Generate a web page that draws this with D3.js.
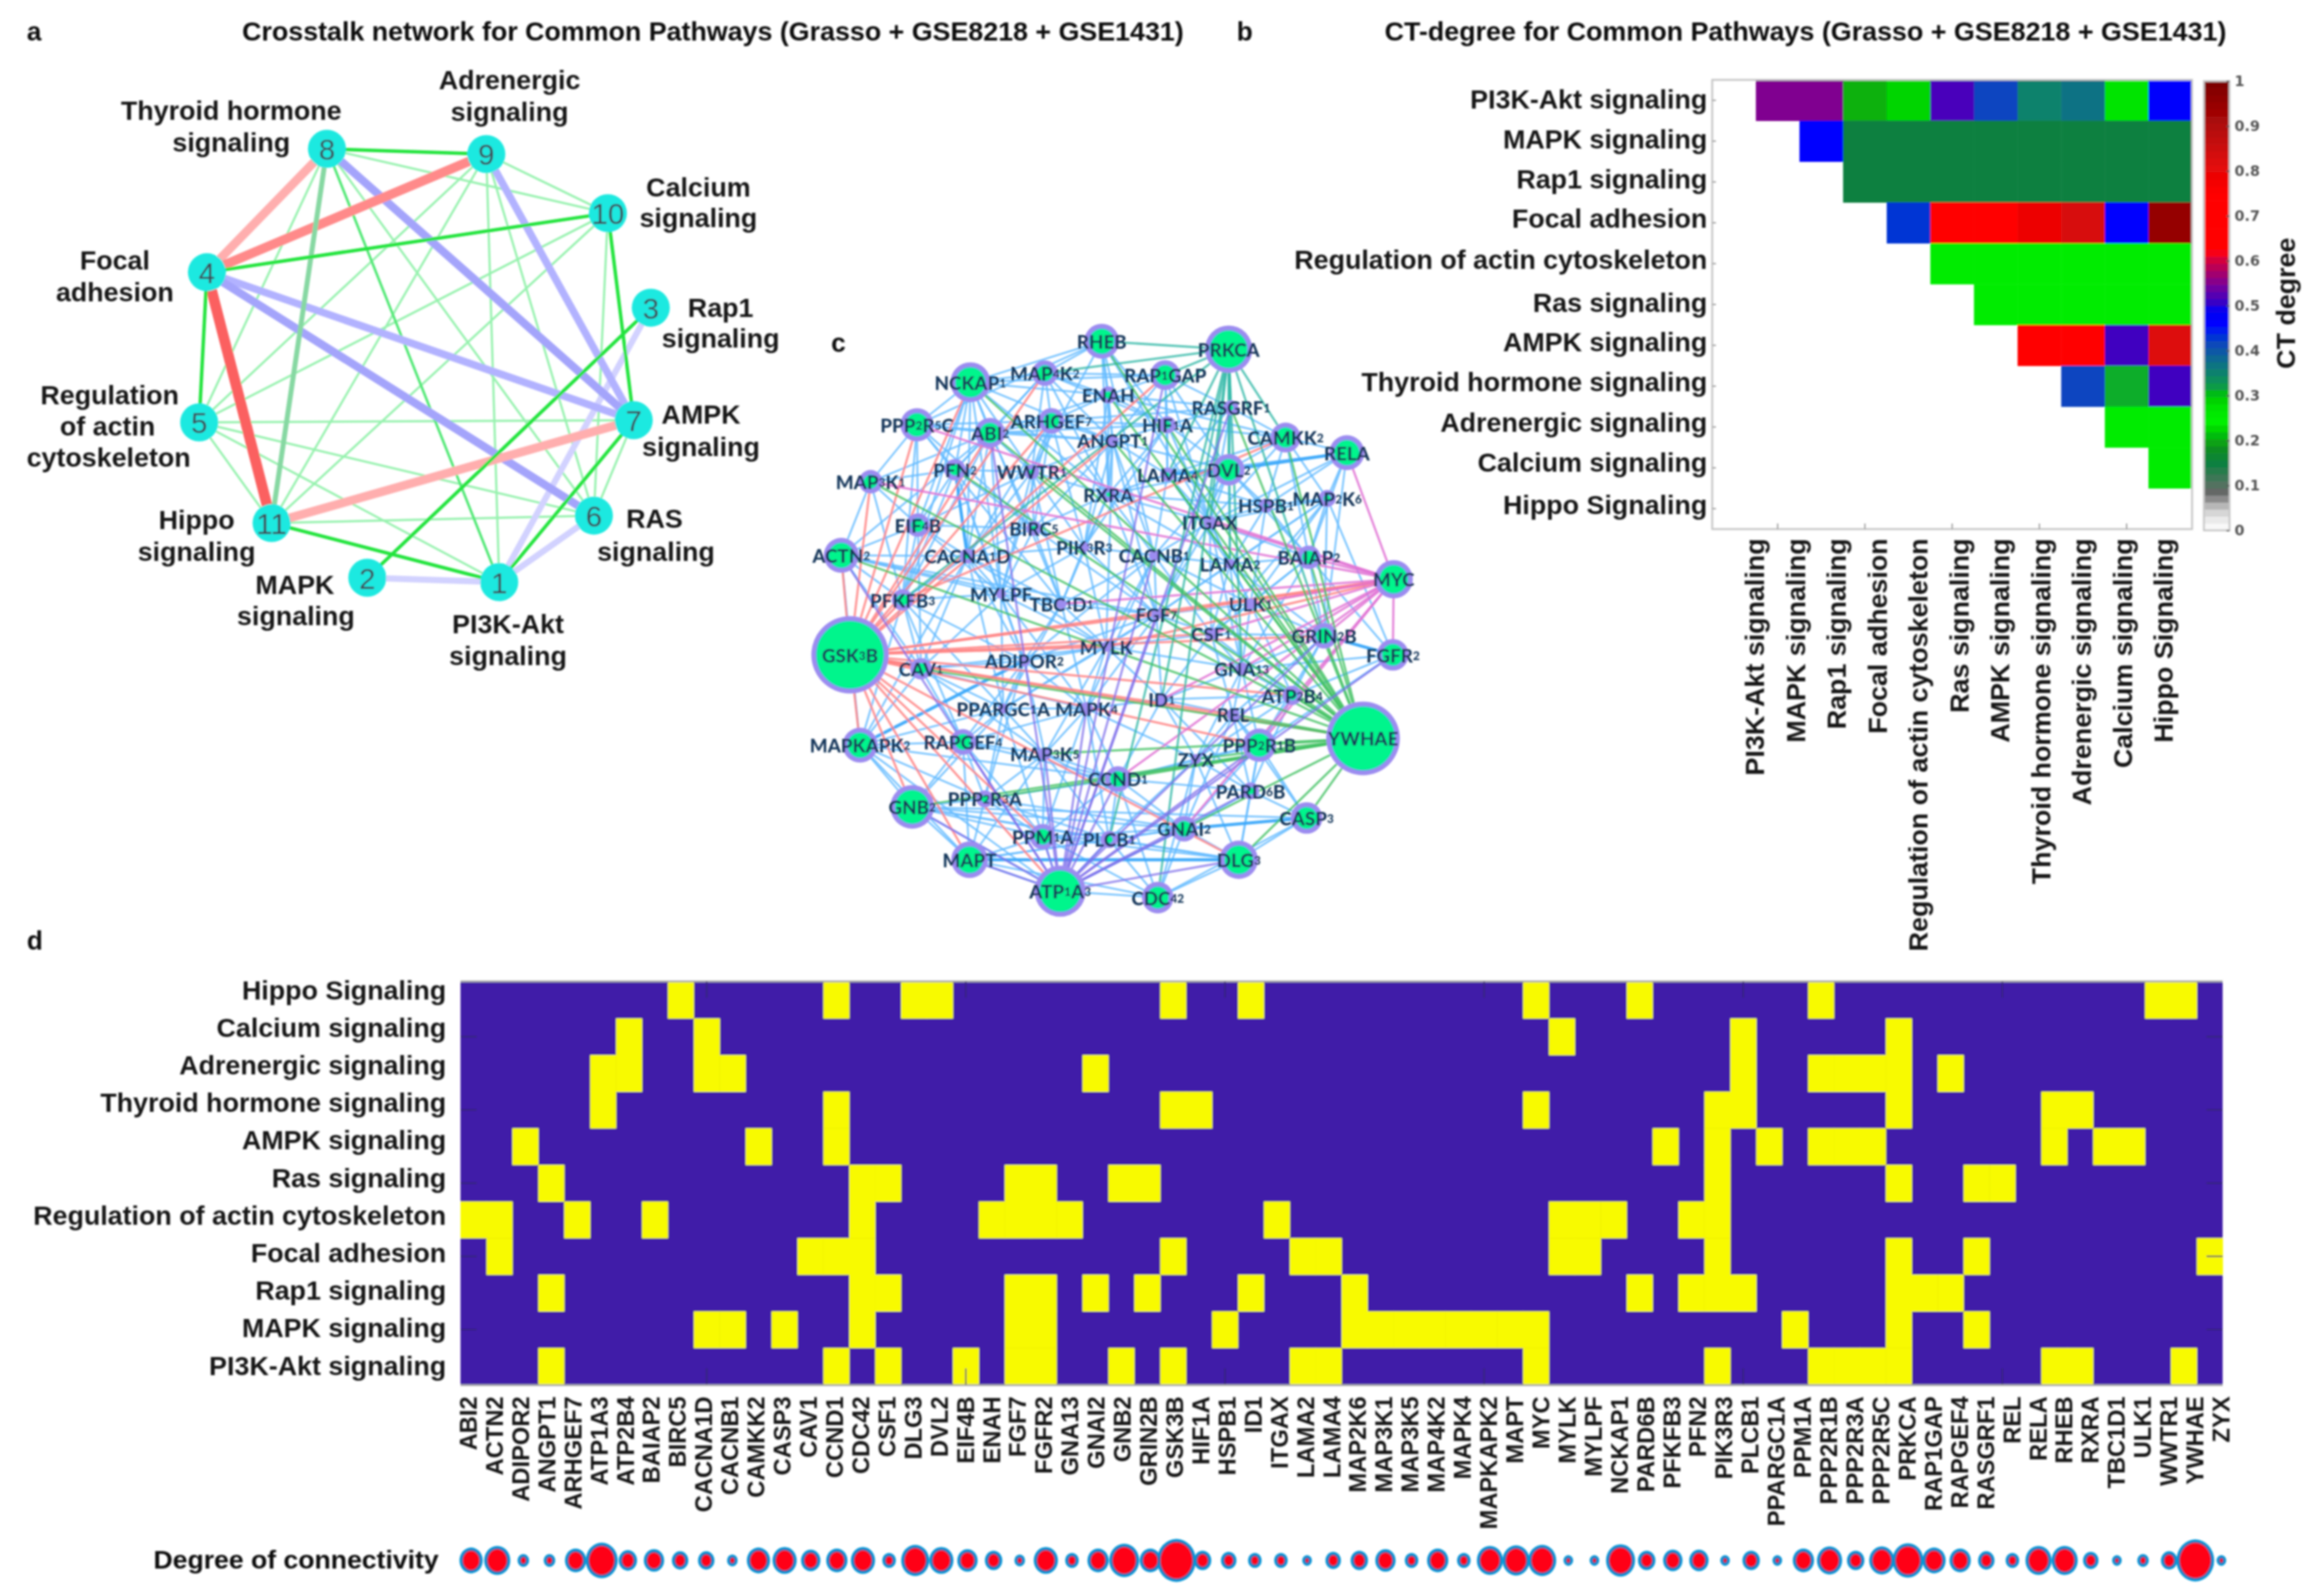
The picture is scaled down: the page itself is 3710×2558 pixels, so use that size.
<!DOCTYPE html>
<html><head><meta charset="utf-8">
<script src="https://cdn.jsdelivr.net/npm/d3@7/dist/d3.min.js"></script>
<style>html,body{margin:0;background:#fff}svg{display:block}text{font-family:"Liberation Sans",Arial,sans-serif}</style>
</head><body><svg id="c" width="3710" height="2558"></svg>
<script>
// ---------- data ----------
const genes = ["ABI2","ACTN2","ADIPOR2","ANGPT1","ARHGEF7","ATP1A3","ATP2B4","BAIAP2","BIRC5","CACNA1D","CACNB1","CAMKK2","CASP3","CAV1","CCND1","CDC42","CSF1","DLG3","DVL2","EIF4B","ENAH","FGF7","FGFR2","GNA13","GNAI2","GNB2","GRIN2B","GSK3B","HIF1A","HSPB1","ID1","ITGAX","LAMA2","LAMA4","MAP2K6","MAP3K1","MAP3K5","MAP4K2","MAPK4","MAPKAPK2","MAPT","MYC","MYLK","MYLPF","NCKAP1","PARD6B","PFKFB3","PFN2","PIK3R3","PLCB1","PPARGC1A","PPM1A","PPP2R1B","PPP2R3A","PPP2R5C","PRKCA","RAP1GAP","RAPGEF4","RASGRF1","REL","RELA","RHEB","RXRA","TBC1D1","ULK1","WWTR1","YWHAE","ZYX"];
const geneDegree = [24,27,12,12,22,33,19,21,17,17,11,24,25,20,22,25,14,29,25,21,18,11,25,14,22,31,22,40,18,16,14,14,10,16,18,21,14,22,14,27,28,29,10,10,30,18,20,20,10,18,10,22,26,18,26,32,24,22,17,14,27,27,16,10,12,17,39,10];
const pathwaysB = ["PI3K-Akt signaling","MAPK signaling","Rap1 signaling","Focal adhesion","Regulation of actin cytoskeleton","Ras signaling","AMPK signaling","Thyroid hormone signaling","Adrenergic signaling","Calcium signaling","Hippo Signaling"];
const ctDegreeRows = [
 [null,.55,.55,.205,.225,.515,.42,.35,.37,.27,.465],
 [null,null,.46,.15,.15,.15,.15,.15,.15,.15,.15],
 [null,null,null,.15,.15,.15,.15,.15,.15,.15,.15],
 [null,null,null,null,.43,.7,.7,.79,.83,.46,.95],
 [null,null,null,null,null,.25,.25,.25,.25,.25,.25],
 [null,null,null,null,null,null,.25,.25,.25,.25,.25],
 [null,null,null,null,null,null,null,.7,.7,.51,.82],
 [null,null,null,null,null,null,null,null,.42,.31,.51],
 [null,null,null,null,null,null,null,null,null,.25,.25],
 [null,null,null,null,null,null,null,null,null,null,.25],
 [null,null,null,null,null,null,null,null,null,null,null]];
const ctStops = [0,.03,.05,.07,.085,.105,.15,.18,.2,.24,.27,.3,.315,.34,.38,.42,.44,.46,.49,.51,.54,.57,.6,.62,.64,.75,.8,.85,.9,1];
const ctColors = ["#ffffff","#e4e4e4","#c4c4c4","#8c8c8c","#666666","#4f7460","#0b8040","#0a8c20","#08a810","#00f000","#00e400","#00c800","#0aa040","#0a8a60","#0a6a90","#0a44c0","#0028e8","#0000ff","#0000f0","#4000c0","#7000a0","#a00070","#d00040","#ff0010","#ff0000","#ff0000","#e80808","#cc0a0a","#b00808","#7a0000"];
const ctTicks = [0,.1,.2,.3,.4,.5,.6,.7,.8,.9,1];

const pathwaysD = ["Hippo Signaling","Calcium signaling","Adrenergic signaling","Thyroid hormone signaling","AMPK signaling","Ras signaling","Regulation of actin cytoskeleton","Focal adhesion","Rap1 signaling","MAPK signaling","PI3K-Akt signaling"];
const hippoGenes = ["BIRC5","CCND1","DLG3","DVL2","GSK3B","ID1","MYC","PARD6B","PPP2R1B","WWTR1","YWHAE"];
const calciumGenes = ["ATP2B4","CACNA1D","MYLK","PLCB1","PRKCA"];
const adrenergicGenes = ["ATP1A3","ATP2B4","CACNA1D","CACNB1","GNAI2","PLCB1","PPP2R1B","PPP2R3A","PPP2R5C","PRKCA","RAPGEF4"];
const thyroidGenes = ["ATP1A3","CCND1","GSK3B","HIF1A","MYC","PIK3R3","PLCB1","PRKCA","RHEB","RXRA"];
const ampkGenes = ["ADIPOR2","CAMKK2","CCND1","PFKFB3","PIK3R3","PPARGC1A","PPP2R1B","PPP2R3A","PPP2R5C","RHEB","TBC1D1","ULK1"];
const rasGenes = ["ANGPT1","CDC42","CSF1","FGF7","FGFR2","GNB2","GRIN2B","PIK3R3","PRKCA","RASGRF1","REL"];
const actinGenes = ["ABI2","ACTN2","ARHGEF7","BAIAP2","CDC42","ENAH","FGF7","FGFR2","GNA13","ITGAX","MYLK","MYLPF","NCKAP1","PFN2","PIK3R3"];
const focalGenes = ["ACTN2","CAV1","CCND1","CDC42","GSK3B","LAMA2","LAMA4","MYLK","MYLPF","PIK3R3","PRKCA","RASGRF1","ZYX"];
const rap1Genes = ["ANGPT1","CDC42","CSF1","FGF7","FGFR2","GNAI2","GRIN2B","ID1","MAP2K6","PARD6B","PFN2","PIK3R3","PLCB1","PRKCA","RAP1GAP","RAPGEF4"];
const mapkGenes = ["CACNA1D","CACNB1","CASP3","CDC42","FGF7","FGFR2","HSPB1","MAP2K6","MAP3K1","MAP3K5","MAP4K2","MAPK4","MAPKAPK2","MAPT","MYC","PPM1A","PRKCA","RASGRF1"];
const pi3kGenes = ["ANGPT1","CCND1","CSF1","EIF4B","FGF7","FGFR2","GNB2","GSK3B","LAMA2","LAMA4","MYC","PIK3R3","PPP2R1B","PPP2R3A","PPP2R5C","PRKCA","RHEB","RXRA","YWHAE"];
const membership = [hippoGenes,calciumGenes,adrenergicGenes,thyroidGenes,ampkGenes,rasGenes,actinGenes,focalGenes,rap1Genes,mapkGenes,pi3kGenes];

// panel a: crosstalk network (layout units)
const crosstalkIds = [1,2,3,4,5,6,7,8,9,10,11];
const crosstalkLayoutX = [965,710,1258,400,385,1148,1225,632,940,1175,525];
const crosstalkLayoutY = [1330,1320,703,622,965,1178,960,340,352,487,1195];
const redStrong = [[4,11]], redMedium = [[4,9]], redLight = [[4,8],[7,11]];
const blueStrong = [[8,7],[4,6]], blueMedium = [[9,7],[4,7]], blueLight = [[3,1],[6,1],[2,1]];
const greenStrong = [[8,9],[4,10],[10,7],[3,2],[11,1],[7,1],[4,5]];
const greenGrey = [[8,11]];
const greenMid = [[8,1]];
const greenThin = [[8,10],[9,10],[8,5],[8,6],[9,5],[9,11],[9,1],[9,6],[10,5],[10,11],[10,6],[5,7],[5,6],[5,1],[5,11],[11,6],[7,6]];
const crosstalkLabels = [
 ["Thyroid hormone",447,252],["signaling",447,325],["Adrenergic",985,183],["signaling",985,255],
 ["Calcium",1350,427],["signaling",1350,497],["Focal",222,595],["adhesion",222,667],
 ["Rap1",1393,703],["signaling",1393,773],["Regulation",212,902],["of actin",208,973],["cytoskeleton",210,1045],
 ["AMPK",1355,947],["signaling",1355,1020],["Hippo",380,1188],["signaling",380,1260],
 ["RAS",1265,1185],["signaling",1268,1260],["MAPK",570,1335],["signaling",572,1407],
 ["PI3K-Akt",982,1425],["signaling",982,1498]];

// panel c: gene network layout (layout units)
const geneLayout = {RHEB:[735,105],PRKCA:[1025,125],NCKAP1:[435,208],MAP4K2:[605,185],RAP1GAP:[880,190],ENAH:[750,240],RASGRF1:[1030,272],PPP2R5C:[313,315],ABI2:[480,335],ARHGEF7:[620,305],HIF1A:[885,315],ANGPT1:[760,355],CAMKK2:[1155,347],RELA:[1295,385],DVL2:[1025,428],LAMA4:[885,440],PFN2:[400,428],WWTR1:[575,433],MAP3K1:[207,458],RXRA:[750,490],HSPB1:[1110,518],MAP2K6:[1250,500],EIF4B:[315,567],BIRC5:[580,575],ITGAX:[982,560],ACTN2:[140,643],CACNA1D:[428,645],PIK3R3:[695,622],CACNB1:[855,643],LAMA2:[1028,665],BAIAP2:[1208,648],MYC:[1402,703],MYLPF:[505,740],PFKFB3:[280,755],TBC1D1:[643,765],ULK1:[1075,765],FGF7:[860,792],CSF1:[985,840],GRIN2B:[1243,845],GSK3B:[160,893],MYLK:[745,873],FGFR2:[1400,893],CAV1:[322,928],ADIPOR2:[558,908],GNA13:[1055,928],ID1:[872,1005],ATP2B4:[1170,995],MAPK4:[700,1028],PPARGC1A:[510,1028],REL:[1035,1043],YWHAE:[1332,1103],MAPKAPK2:[183,1120],RAPGEF4:[418,1112],PPP2R1B:[1095,1120],MAP3K5:[605,1142],ZYX:[950,1155],CCND1:[772,1205],PARD6B:[1075,1235],PPP2R3A:[468,1255],GNB2:[302,1275],CASP3:[1203,1303],GNAI2:[923,1330],PPM1A:[600,1350],PLCB1:[752,1357],MAPT:[433,1408],DLG3:[1048,1408],ATP1A3:[640,1487],CDC42:[863,1503]};
const blueLinks = {RHEB:"NCKAP1 PPP2R5C ENAH ANGPT1 RXRA WWTR1 HIF1A ITGAX CACNB1 MAP4K2",
NCKAP1:"MAP4K2 PPP2R5C ABI2 PFN2 EIF4B CACNA1D WWTR1 RAP1GAP ENAH ANGPT1 TBC1D1 MYLPF PFKFB3 RXRA",
MAP4K2:"ENAH ARHGEF7 ABI2 WWTR1 PFN2 HIF1A RAP1GAP ANGPT1 RXRA",
RAP1GAP:"ENAH HIF1A RASGRF1 LAMA4 DVL2 ANGPT1 ITGAX",
ENAH:"HIF1A ANGPT1 RXRA ABI2 ARHGEF7 CAMKK2 RASGRF1 PIK3R3",
RASGRF1:"CAMKK2 HIF1A LAMA4 DVL2 ITGAX ARHGEF7",
PPP2R5C:"ABI2 ARHGEF7 PFN2 EIF4B ANGPT1 MAP3K1 BIRC5 TBC1D1 PFKFB3",
ABI2:"ARHGEF7 PFN2 ANGPT1 WWTR1 HIF1A MAP3K1 MYLPF BIRC5 PFKFB3 CACNA1D ACTN2",
ARHGEF7:"ANGPT1 WWTR1 BIRC5 PIK3R3 HIF1A RXRA CACNA1D MYLPF",
HIF1A:"ANGPT1 LAMA4 RXRA DVL2 CAMKK2 ITGAX PIK3R3",
ANGPT1:"WWTR1 RXRA LAMA4 DVL2 BIRC5 PIK3R3 CACNB1 FGF7 MYLK",
CAMKK2:"RELA DVL2 LAMA4 HSPB1 ITGAX MAP2K6 BAIAP2",
RELA:"MAP2K6 HSPB1 LAMA4 GRIN2B ITGAX BAIAP2",
DVL2:"LAMA4 HSPB1 ITGAX RXRA LAMA2 CACNB1 BAIAP2 FGF7",
LAMA4:"RXRA ITGAX HSPB1 CACNB1 LAMA2",
PFN2:"WWTR1 EIF4B BIRC5 CACNA1D PFKFB3 MYLPF MAP3K1 ADIPOR2",
WWTR1:"RXRA BIRC5 PIK3R3 EIF4B CACNA1D TBC1D1 MYLPF",
MAP3K1:"EIF4B PFKFB3 ACTN2",
RXRA:"HSPB1 ITGAX BIRC5 PIK3R3 CACNB1 TBC1D1 LAMA2 FGF7",
HSPB1:"MAP2K6 ITGAX BAIAP2 LAMA2 ULK1",
MAP2K6:"ITGAX BAIAP2 LAMA2 ULK1 FGF7 CSF1 GRIN2B FGFR2",
EIF4B:"ACTN2 BIRC5 CACNA1D PFKFB3 MYLPF CAV1",
BIRC5:"PIK3R3 CACNA1D MYLPF TBC1D1 FGF7",
ITGAX:"CACNB1 LAMA2 BAIAP2 ULK1 FGF7 CSF1 GNA13",
ACTN2:"CACNA1D PFKFB3 MYLPF TBC1D1 CAV1 FGF7 MAPKAPK2",
CACNA1D:"PIK3R3 PFKFB3 MYLPF TBC1D1 MYLK ADIPOR2 CAV1 PPARGC1A MAPKAPK2",
PIK3R3:"CACNB1 TBC1D1 FGF7 MYLK MYLPF",
CACNB1:"LAMA2 FGF7 MYLK CSF1 ULK1 TBC1D1 ADIPOR2 MAPK4",
LAMA2:"BAIAP2 ULK1 CSF1 FGF7 GRIN2B GNA13",
BAIAP2:"ULK1 GRIN2B CSF1 FGFR2 GNA13",
MYLPF:"PFKFB3 TBC1D1 ADIPOR2 CAV1 PPARGC1A MYLK MAPK4",
PFKFB3:"CAV1 ADIPOR2 PPARGC1A MAPKAPK2 RAPGEF4",
TBC1D1:"FGF7 MYLK ADIPOR2 MAPK4 PPARGC1A",
ULK1:"FGF7 CSF1 GRIN2B GNA13 ATP2B4",
FGF7:"MYLK CSF1 GNA13 ID1 ADIPOR2 MAPK4 PPARGC1A",
CSF1:"GRIN2B GNA13 ID1 ATP2B4 MYLK REL",
GRIN2B:"FGFR2 GNA13 ATP2B4 REL PPP2R1B",
MYLK:"ADIPOR2 ID1 MAPK4 CAV1 PPARGC1A MAP3K5 GNA13",
FGFR2:"ATP2B4 GNA13 PPP2R1B",
CAV1:"ADIPOR2 PPARGC1A MAPKAPK2 RAPGEF4 MAP3K5 MAPK4",
ADIPOR2:"PPARGC1A MAPK4 RAPGEF4 MAP3K5 PPP2R3A",
GNA13:"ID1 ATP2B4 REL ZYX PPP2R1B",
ID1:"MAPK4 REL ATP2B4 ZYX CCND1 PARD6B",
ATP2B4:"REL PPP2R1B ZYX PARD6B",
MAPK4:"PPARGC1A MAP3K5 RAPGEF4 CCND1 ZYX PPM1A PLCB1",
PPARGC1A:"MAPKAPK2 RAPGEF4 MAP3K5 PPP2R3A PPM1A GNB2",
REL:"PPP2R1B ZYX PARD6B CASP3 GNAI2",
MAPKAPK2:"RAPGEF4 GNB2 PPP2R3A MAPT CCND1 ATP1A3",
RAPGEF4:"MAP3K5 PPP2R3A GNB2 MAPT PPM1A CCND1",
PPP2R1B:"ZYX CCND1 PARD6B CASP3 GNAI2 DLG3",
MAP3K5:"CCND1 PPP2R3A PPM1A PLCB1 GNAI2 MAPT",
ZYX:"CCND1 PARD6B GNAI2 PLCB1 CDC42 DLG3",
CCND1:"PARD6B PPP2R3A PPM1A PLCB1 GNAI2 CDC42",
PARD6B:"CASP3 GNAI2 DLG3",
PPP2R3A:"GNB2 PPM1A MAPT GNAI2 PLCB1",
GNB2:"GNAI2 MAPT PPM1A PLCB1 ATP1A3 DLG3 CASP3",
CASP3:"DLG3 CDC42",
GNAI2:"PPM1A PLCB1 MAPT DLG3 CDC42 ATP1A3",
PPM1A:"PLCB1 MAPT ATP1A3 DLG3 CDC42",
PLCB1:"MAPT DLG3 CDC42 ATP1A3",
MAPT:"DLG3 ATP1A3 CDC42",
DLG3:"CDC42",
ATP1A3:"CDC42"};
const strongBlueLinks = {ADIPOR2:"MAPKAPK2",RELA:"DVL2",CASP3:"GNAI2",PFN2:"CACNA1D",GRIN2B:"FGFR2",MAPT:"DLG3",LAMA4:"DVL2"};
const redLinks = {GSK3B:"ACTN2 MAP3K1 PPP2R5C NCKAP1 MAP4K2 ABI2 ARHGEF7 ANGPT1 RAP1GAP PFKFB3 MYC GRIN2B FGF7 CSF1 ATP2B4 REL PPP2R1B YWHAE MAPKAPK2 GNB2 MAPT ATP1A3 DLG3 RAPGEF4 PPM1A CAV1 MYLK", CAMKK2:"PFKFB3", MYC:"MYLK FGF7 ULK1"};
const greenLinks = {YWHAE:"NCKAP1 MAP3K1 ACTN2 PFN2 ABI2 RHEB ENAH RASGRF1 CAMKK2 BAIAP2 GRIN2B PPP2R1B MAP3K5 ZYX CCND1 PPP2R3A GNB2 CASP3 DLG3 GNAI2 HIF1A WWTR1 CAV1 FGF7 ITGAX ATP2B4 REL LAMA4 ANGPT1"};
const tealLinks = {PRKCA:"RHEB MAP4K2 RAP1GAP RASGRF1 DVL2 CAMKK2 PFKFB3 CDC42 ITGAX LAMA2 GRIN2B PLCB1 ID1 LAMA4 GNA13"};
const violetLinks = {ATP1A3:"ACTN2 GNB2 MAPT DLG3 ABI2 RASGRF1 RAP1GAP PPM1A MAPK4 PLCB1 MAP3K5 PPP2R1B GRIN2B FGFR2 GNAI2 PARD6B CCND1 RAPGEF4 FGF7 CACNB1"};
const magentaLinks = {MYC:"RELA FGFR2 BAIAP2 ULK1 MAP3K1 ITGAX TBC1D1 GNA13 ID1 GRIN2B CCND1 PPP2R1B GNAI2 CSF1 PPP2R5C"};

// ---------- drawing ----------
const svg = d3.select("#c");
svg.append("defs").html('<filter id="soft" filterUnits="userSpaceOnUse" x="0" y="0" width="3710" height="2558"><feGaussianBlur stdDeviation="1.5"/></filter>');
svg.append("rect").attr("width",3710).attr("height",2558).attr("fill","#fff");
const root = svg.append("g").attr("filter","url(#soft)");
const title = (s,x,y,anchor,size,len)=>{const t=root.append("text").attr("x",x).attr("y",y).attr("text-anchor",anchor||"start").attr("dominant-baseline","central").attr("font-size",size||42).attr("font-weight","bold").attr("fill","#111").text(s); if(len) t.attr("textLength",len).attr("lengthAdjust","spacingAndGlyphs"); return t;};
title("a",43,50);title("b",1982,50);title("c",1332,549);title("d",43,1507);
title("Crosstalk network for Common Pathways (Grasso + GSE8218 + GSE1431)",388,50,"start",43,1509);
title("CT-degree for Common Pathways (Grasso + GSE8218 + GSE1431)",2219,50,"start",43,1349);

// panel a
{
 const x=d3.scaleLinear([0,1568],[0,1300]), y=d3.scaleLinear([0,1568],[0,1100]);
 const g=root.append("g");
 const pos=id=>{const i=crosstalkIds.indexOf(id);return [x(crosstalkLayoutX[i]),y(crosstalkLayoutY[i])];};
 const draw=(list,color,w)=>g.append("g").selectAll("line").data(list).join("line")
   .attr("x1",d=>pos(d[0])[0]).attr("y1",d=>pos(d[0])[1]).attr("x2",d=>pos(d[1])[0]).attr("y2",d=>pos(d[1])[1])
   .attr("stroke",color).attr("stroke-width",w);
 draw(greenThin,"#96f2ae",3.5);draw(greenMid,"#4fe873",4);
 draw(blueLight,"#d2d2ff",10);draw(blueMedium,"#b2b2ff",12);draw(blueStrong,"#a4a4fb",13);
 draw(redLight,"#ffaeae",14);draw(redMedium,"#ff8a8a",15);draw(redStrong,"#fb6060",17);
 draw(greenGrey,"#86d8a2",8);draw(greenStrong,"#22e43e",5.5);
 g.selectAll("circle").data(crosstalkIds).join("circle")
   .attr("cx",d=>pos(d)[0]).attr("cy",d=>pos(d)[1]).attr("r",30.5).attr("fill","#1de9e0");
 g.selectAll("text.n").data(crosstalkIds).join("text").attr("class","n")
   .attr("x",d=>pos(d)[0]).attr("y",d=>pos(d)[1]+1).attr("text-anchor","middle").attr("dominant-baseline","central")
   .attr("font-size",47).attr("fill","#3c4a55").text(d=>d);
 g.selectAll("text.l").data(crosstalkLabels).join("text").attr("class","l")
   .attr("x",d=>x(d[1])).attr("y",d=>y(d[2])).attr("text-anchor","middle").attr("dominant-baseline","central")
   .attr("font-size",43).attr("font-weight","bold").attr("fill","#151515").text(d=>d[0]);
}

// panel b
{
 const g=root.append("g");
 const x=d3.scaleBand(d3.range(11),[2744,3513]), y=d3.scaleBand(d3.range(11),[128,848]);
 const ct=d3.scaleLinear(ctStops,ctColors);
 const cells=ctDegreeRows.flatMap((r,i)=>r.map((v,j)=>({i,j,v}))).filter(d=>d.v!==null);
 g.selectAll("rect.c").data(cells).join("rect").attr("class","c").attr("x",d=>x(d.j)).attr("y",d=>y(d.i))
  .attr("width",x.bandwidth()+.5).attr("height",y.bandwidth()+.5).attr("fill",d=>ct(d.v));
 g.append("rect").attr("x",2744).attr("y",128).attr("width",769).attr("height",720).attr("fill","none").attr("stroke","#c6c6c6").attr("stroke-width",3);
 const ax=g.append("g").attr("transform","translate(0,848)").call(d3.axisTop(x).tickValues([1,3,5,7,9]).tickSize(9).tickFormat(""));
 const ay=g.append("g").attr("transform","translate(2744,0)").call(d3.axisRight(y).tickSize(6).tickFormat(""));
 [ax,ay].forEach(a=>{a.select(".domain").remove();a.selectAll("line").attr("stroke","#999").attr("stroke-width",2);});
 const lyFix=[159,223,287,350,416,485,548,612,677,741,809];
 g.selectAll("text.y").data(pathwaysB).join("text").attr("class","y").attr("x",2736).attr("y",(d,i)=>lyFix[i])
  .attr("text-anchor","end").attr("dominant-baseline","central").attr("font-size",43).attr("font-weight","bold").attr("fill","#151515").text(d=>d);
 const lx=d3.scalePoint(pathwaysB,[2812,3467]);
 g.selectAll("text.x").data(pathwaysB).join("text").attr("class","x")
  .attr("transform",d=>`translate(${lx(d)},863) rotate(-90)`).attr("text-anchor","end").attr("dominant-baseline","central")
  .attr("font-size",43).attr("font-weight","bold").attr("fill","#151515").text(d=>d);
 // colour bar
 const cy=d3.scaleLinear([0,1],[850,130]), bands=d3.range(64).map(i=>i/64);
 g.selectAll("rect.b").data(bands).join("rect").attr("class","b").attr("x",3532).attr("width",41)
  .attr("y",d=>cy(d+1/64)).attr("height",720/64+.6).attr("fill",d=>ct(d+1/128));
 g.append("rect").attr("x",3532).attr("y",130).attr("width",41).attr("height",720).attr("fill","none").attr("stroke","#c6c6c6").attr("stroke-width",3);
 const axc=g.append("g").attr("transform","translate(3573,0)").call(d3.axisLeft(cy).tickValues(ctTicks).tickSize(5).tickFormat(""));
 axc.select(".domain").remove();axc.selectAll("line").attr("stroke","#555").attr("stroke-width",2);
 g.selectAll("text.t").data(ctTicks).join("text").attr("class","t").attr("x",3581).attr("y",d=>cy(d))
  .attr("dominant-baseline","central").attr("font-size",23).attr("font-weight","bold").style("font-family","DejaVu Sans").attr("fill","#555").text(d=>d);
 g.append("text").attr("transform","translate(3663,486) rotate(-90)").attr("text-anchor","middle").attr("dominant-baseline","central")
  .attr("font-size",43).attr("font-weight","bold").attr("fill","#151515").text("CT degree");
}

// panel c
{
 const g=root.append("g");
 const x=d3.scaleLinear([0,1568],[1250,2350]), y=d3.scaleLinear([0,1568],[480,1480]);
 const rScale=d3.scaleLinear([10,17,24,30,40],[8,12,24,32,62]);
 const parse=o=>Object.entries(o).flatMap(([a,s])=>s.split(" ").map(b=>[a,b]));
 const draw=(obj,color,w,op)=>g.append("g").selectAll("line").data(parse(obj)).join("line")
  .attr("x1",d=>x(geneLayout[d[0]][0])).attr("y1",d=>y(geneLayout[d[0]][1]))
  .attr("x2",d=>x(geneLayout[d[1]][0])).attr("y2",d=>y(geneLayout[d[1]][1]))
  .attr("stroke",color).attr("stroke-width",w).attr("stroke-opacity",op);
 draw(blueLinks,"#62baff",3,.85);draw(strongBlueLinks,"#3aa8fa",5,.95);
 draw(redLinks,"#ff8080",3.5,.85);draw(magentaLinks,"#e070d4",3.5,.85);
 draw(tealLinks,"#2fb8a6",3.5,.8);draw(greenLinks,"#3fc060",3.5,.8);draw(violetLinks,"#7c6cea",3.5,.75);
 const nodes=genes.map((n,i)=>({n,r:rScale(geneDegree[i]),p:geneLayout[n]}));
 g.selectAll("circle.o").data(nodes).join("circle").attr("class","o").attr("cx",d=>x(d.p[0])).attr("cy",d=>y(d.p[1]))
  .attr("r",d=>d.r).attr("fill","#9c8cf0");
 g.selectAll("circle.i").data(nodes.filter(d=>d.r>11)).join("circle").attr("class","i").attr("cx",d=>x(d.p[0])).attr("cy",d=>y(d.p[1]))
  .attr("r",d=>d.r-8).attr("fill","#00f58c").attr("stroke","#24b8d8").attr("stroke-width",1.5);
 const lab=g.selectAll("text.g").data(nodes).join("text").attr("class","g").attr("x",d=>x(d.p[0])).attr("y",d=>y(d.p[1]))
  .attr("text-anchor","middle").attr("dominant-baseline","central").style("font-family","Lato").attr("font-weight","900").attr("font-size",30).attr("fill","#17385c");
 lab.each(function(d){const t=d3.select(this);d.n.split(/(\d+)/).filter(s=>s).forEach(s=>{const sp=t.append("tspan").text(s);if(/\d/.test(s))sp.attr("font-size",19);});});
}

// panel d
{
 const g=root.append("g");
 const x=d3.scaleBand(genes,[738,3562]), y=d3.scaleBand(pathwaysD,[1573.5,2219]);
 g.append("rect").attr("x",738).attr("y",1573.5).attr("width",2824).attr("height",645.5).attr("fill","#3f1fa8");
 const cells=membership.flatMap((list,i)=>list.map(n=>({n,p:pathwaysD[i]})));
 g.selectAll("rect.c").data(cells).join("rect").attr("class","c").attr("x",d=>x(d.n)).attr("y",d=>y(d.p))
  .attr("width",x.bandwidth()+.5).attr("height",y.bandwidth()+.5).attr("fill","#f8fa00");
 g.append("line").attr("x1",738).attr("x2",3562).attr("y1",1573).attr("y2",1573).attr("stroke","#a8a8a8").attr("stroke-width",3);
 g.append("line").attr("x1",738).attr("x2",3562).attr("y1",2220).attr("y2",2220).attr("stroke","#a8a8a8").attr("stroke-width",3);
 const colTicks=genes.filter((d,i)=>i%10===9), rowTicks=pathwaysD.filter((d,i)=>i%2===1);
 const as=[
  g.append("g").attr("transform","translate(0,1573)").call(d3.axisBottom(x).tickValues(colTicks).tickSize(26).tickFormat("")),
  g.append("g").attr("transform","translate(0,2219)").call(d3.axisTop(x).tickValues(colTicks).tickSize(26).tickFormat("")),
  g.append("g").attr("transform","translate(738,0)").call(d3.axisRight(y).tickValues(rowTicks).tickSize(26).tickFormat("")),
  g.append("g").attr("transform","translate(3562,0)").call(d3.axisLeft(y).tickValues(rowTicks).tickSize(26).tickFormat(""))];
 as.forEach(a=>{a.select(".domain").remove();a.selectAll("line").attr("stroke","#33246e").attr("stroke-width",2);});
 const ly=d3.scalePoint(pathwaysD,[1586.5,2188.5]);
 g.selectAll("text.y").data(pathwaysD).join("text").attr("class","y").attr("x",715).attr("y",d=>ly(d))
  .attr("text-anchor","end").attr("dominant-baseline","central").attr("font-size",43).attr("font-weight","bold").attr("fill","#151515").text(d=>d);
 const lx=d3.scalePoint(genes,[751,3560]);
 g.selectAll("text.x").data(genes).join("text").attr("class","x")
  .attr("transform",d=>`translate(${lx(d)},2238) rotate(-90)`).attr("text-anchor","end").attr("dominant-baseline","central")
  .attr("font-size",38).attr("font-weight","bold").attr("fill","#151515").text(d=>d);
 // degree of connectivity
 const dx=d3.scalePoint(genes,[755,3560]), dr=d3.scaleLinear([0,40],[0,34.5]);
 title("Degree of connectivity",246,2500,"start",40,457);
 const ds=genes.map((n,i)=>({n,r:dr(geneDegree[i])}));
 const k=.9;
 g.selectAll("ellipse.o").data(ds).join("ellipse").attr("class","o").attr("cx",d=>dx(d.n)).attr("cy",2501)
  .attr("rx",d=>d.r*k).attr("ry",d=>d.r).attr("fill","#0a96d8");
 g.selectAll("ellipse.m").data(ds).join("ellipse").attr("class","m").attr("cx",d=>dx(d.n)).attr("cy",2501)
  .attr("rx",d=>Math.max(0,d.r*k-3.5)).attr("ry",d=>Math.max(0,d.r-3.5)).attr("fill","#1e5a9c");
 g.selectAll("ellipse.i").data(ds).join("ellipse").attr("class","i").attr("cx",d=>dx(d.n)).attr("cy",2501)
  .attr("rx",d=>Math.max(0,d.r*k-5.5)).attr("ry",d=>Math.max(0,d.r-5.5)).attr("fill","#ff0014");
}
</script></body></html>
